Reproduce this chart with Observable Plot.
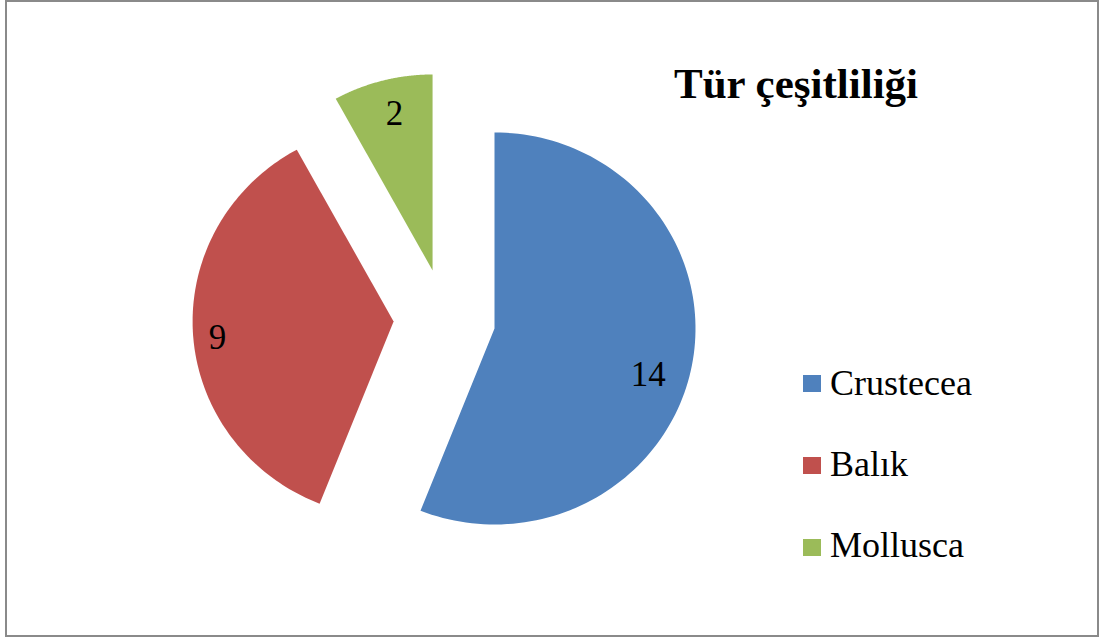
<!DOCTYPE html>
<html>
<head>
<meta charset="utf-8">
<script src="https://cdn.jsdelivr.net/npm/d3@7"></script>
<script src="https://cdn.jsdelivr.net/npm/@observablehq/plot@0.6"></script>
<style>
  body { margin: 0; background: #fff; }
  #wrap { position: relative; width: 1101px; height: 639px; overflow: hidden; background: #fff;
          font-family: "Liberation Serif", "Times New Roman", serif; color: #000; }
  #frame { position: absolute; left: 5px; top: 0; width: 1094px; height: 637px; box-sizing: border-box;
           border: 2px solid #8a8a8a; pointer-events: none; }
  #chart { position: absolute; left: 0; top: 0; }
  #title { position: absolute; left: 796px; top: 62px; transform: translateX(-50%); white-space: nowrap;
           font-weight: bold; font-size: 43px; line-height: 43px; }
  .lg-sw { position: absolute; width: 18px; height: 17px; }
  .lg-tx { position: absolute; font-size: 36px; line-height: 36px; white-space: nowrap; }
</style>
</head>
<body>
<div id="wrap">
  <div id="chart"></div>
  <div id="title"></div>
  <div id="legend"></div>
  <div id="frame"></div>
</div>
<script>
// ---- data ----
const title = "Tür çeşitliliği";
const categories = ["Crustecea", "Balık", "Mollusca"];
const values = [14, 9, 2];

// ---- style ----
const colors = ["#4F81BD", "#C0504D", "#9BBB59"];
// explode offset of each slice, in radius units (x right, y up)
const explode = [[0, 0], [-0.502, 0.036], [-0.308, 0.296]];
// label placement: angle offset from slice middle (deg) and radial fraction
const labelPlace = [[6.2, 0.80], [-1.8, 0.88], [1.0, 0.82]];

const W = 1101, H = 639;
const cx = 494, cy = 328, rx = 201, ry = 196;

const pie = d3.pie().sort(null).value(d => d)(values);
const pts = [];
const labels = [];
pie.forEach((p, i) => {
  const [ox, oy] = explode[i];
  const name = categories[i];
  pts.push({name, x: ox, y: oy});
  const n = 120;
  for (let k = 0; k <= n; k++) {
    const a = p.startAngle + (p.endAngle - p.startAngle) * k / n;
    pts.push({name, x: ox + Math.sin(a), y: oy + Math.cos(a)});
  }
  const mid = (p.startAngle + p.endAngle) / 2 + labelPlace[i][0] * Math.PI / 180;
  const lr = labelPlace[i][1];
  labels.push({name, value: values[i], x: ox + lr * Math.sin(mid), y: oy + lr * Math.cos(mid)});
});

const chart = Plot.plot({
  width: W, height: H,
  margin: 0,
  x: {domain: [-cx / rx, (W - cx) / rx], axis: null},
  y: {domain: [-(H - cy) / ry, cy / ry], axis: null},
  color: {domain: categories, range: colors},
  style: {background: "transparent", fontFamily: "'Liberation Serif', 'Times New Roman', serif"},
  marks: [
    Plot.line(pts, {x: "x", y: "y", z: "name", fill: "name", stroke: "none", curve: "linear-closed"}),
    Plot.text(labels, {x: "x", y: "y", text: d => String(d.value), fontSize: 35, fill: "#000",
      fontFamily: "'Liberation Serif', 'Times New Roman', serif"})
  ]
});
document.getElementById("chart").appendChild(chart);

document.getElementById("title").textContent = title;

const legend = document.getElementById("legend");
categories.forEach((c, i) => {
  const sw = document.createElement("div");
  sw.className = "lg-sw";
  sw.style.left = "803px";
  sw.style.top = (375 + i * 82) + "px";
  sw.style.background = colors[i];
  legend.appendChild(sw);
  const tx = document.createElement("div");
  tx.className = "lg-tx";
  tx.style.left = "830px";
  tx.style.top = (365 + i * 81) + "px";
  tx.textContent = c;
  legend.appendChild(tx);
});
</script>
</body>
</html>
